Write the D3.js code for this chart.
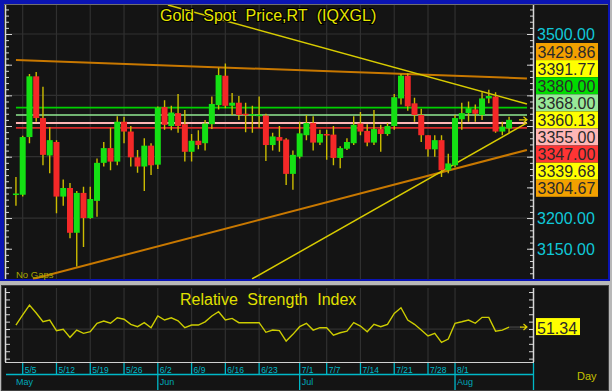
<!DOCTYPE html>
<html><head><meta charset="utf-8">
<script src="https://cdn.jsdelivr.net/npm/d3@7"></script>
<style>
body{margin:0;background:#b8b8b8;}
svg{display:block;font-family:"Liberation Sans",Arial,sans-serif;}
</style>
</head><body>
<svg id="c" width="612" height="391"></svg>
<script>
// ---------- data ----------
const dates = ["5/2","5/5","5/6","5/7","5/8","5/9","5/12","5/13","5/14","5/15","5/16","5/19","5/20","5/21","5/22","5/23","5/26","5/27","5/28","5/29","5/30",
"6/2","6/3","6/4","6/5","6/6","6/9","6/10","6/11","6/12","6/13","6/16","6/17","6/18","6/19","6/20","6/23","6/24","6/25","6/26","6/27","6/30",
"7/1","7/2","7/3","7/4","7/7","7/8","7/9","7/10","7/11","7/14","7/15","7/16","7/17","7/18","7/21","7/22","7/23","7/24","7/25","7/28","7/29","7/30","7/31",
"8/1","8/4","8/5","8/6","8/7","8/8","8/11","8/12","8/13"];
const open = [3238,3238,3332,3431,3363,3302,3324,3235,3249,3176,3241,3200,3228,3290,3314,3292,3357,3341,3299,3284,
3318,3287,3381,3350,3371,3353,3308,3326,3322,3353,3384,3432,3383,3388,3370,3369,3368,3367,3319,3332,
3328,3272,3300,3335,3355,3323,3337,3336,3298,3313,3322,3354,3342,3323,3345,3337,3350,3395,3432,3387,
3368,3335,3312,3327,3278,3286,3361,3371,3377,3368,3395,3398,3341,3346];
const close = [3240,3332,3431,3363,3303,3327,3235,3249,3176,3241,3200,3231,3290,3314,3292,3357,3341,3299,3284,3318,
3286,3380,3352,3372,3350,3308,3326,3319,3354,3386,3433,3383,3388,3368,3369,3369.5,3368.5,3319,3333,3326,
3272,3303,3338,3355,3323,3337,3335,3298,3314,3324,3352,3341,3323,3345,3337,3350,3397,3432,3382,3368,
3335,3312,3327,3278,3289,3363,3371,3379,3370,3395,3399,3341,3349,3360.13];
const high = [3267,3334,3435,3438,3414,3348,3327,3263,3257,3244,3251,3251,3297,3324,3347,3366,3365,3350,3311,3330,
3322,3382,3392,3383,3402,3376,3337,3343,3360,3398,3445,3452,3404,3399,3388,3383,3398,3370,3339,3350,
3330,3310,3357,3368,3366,3344,3344,3350,3317,3330,3366,3373,3353,3376,3352,3355,3402,3435,3436,3396,
3378,3335,3335,3335,3305,3368,3388,3390,3385,3405,3409,3405,3357,3365];
const low = [3220,3235,3322,3357,3286,3273,3208,3220,3167,3121,3153,3199,3202,3284,3278,3286,3322,3284,3274,3244,
3270,3280,3344,3343,3339,3292,3292,3312,3310,3345,3377,3379,3368,3360,3340,3339,3347,3293,3310,3308,
3254,3246,3297,3327,3310,3319,3295,3286,3281,3311,3319,3335,3317,3319,3308,3334,3344,3385,3375,3357,
3324,3300,3300,3267,3273,3283,3344,3357,3357,3360,3387,3339,3335,3338];
const rsi = [52.7,59.5,66.2,60.8,54.9,56.1,48.9,49.8,44.4,49.3,47.1,48.2,53.9,55.4,53.9,57.6,56.6,53.2,51.6,54.3,
50.9,58.8,56.1,57.6,55.6,50.9,52.7,52.7,54.9,58.8,61.7,56.1,57.2,54.3,54.3,54.3,54.3,47.8,49.3,48.9,
41.9,46.4,51.6,53.9,49.3,50.9,50.9,45.9,47.5,48.6,54.3,52.0,48.2,53.2,51.6,53.2,60.6,64.4,56.1,53.2,
49.3,45.3,47.1,41.0,43.2,53.9,54.9,56.1,53.9,57.9,57.9,48.6,49.3,51.34];
const tickDates = ["5/5","5/12","5/19","5/26","6/2","6/9","6/16","6/23","7/1","7/7","7/14","7/21","7/28","8/1"];
const monthLabels = ["May","Jun","Jul","Aug"];
const monthStarts = ["5/2","6/2","7/1","8/1"];
const priceLabels = [3500, 3200, 3150];
const levelValues = [3429.86,3391.77,3380.00,3368.00,3360.13,3355.00,3347.00,3339.68,3304.67];
const hLineValues = [3380,3368,3355,3347];
const lastPrice = 3360.13;
const lastRsi = 51.34;
// trend lines: [index, price] endpoints
const trendOrangeTop = [[0,3457.6],[75.65,3427.5]];
const trendYellowTop = [[22.5,3547.3],[75.65,3386]];
const trendYellowLow = [[34.95,3100.7],[75.65,3355]];
const trendOrangeLow = [[2.52,3100.7],[75.65,3311]];
const title = "Gold Spot Price,RT (IQXGL)";
const rsiTitle = "Relative Strength Index";

// ---------- drawing ----------
const svg = d3.select("#c");
const BG = "#141414", GRID = "#303030";
const x = d3.scaleLinear().domain([0, 73]).range([15.95, 509.07]);
const y = d3.scaleLinear().domain([3100, 3500]).range([279.4, 34]);
const yr = d3.scaleLinear().domain([28, 78]).range([361.6, 287.6]);
const idx = d => dates.indexOf(d);

// frames
svg.append("rect").attr("x",0).attr("y",0).attr("width",612).attr("height",391).attr("fill","#b8b8b8");
svg.append("rect").attr("x",0).attr("y",0).attr("width",610).attr("height",281).attr("fill","#0a14b4");
svg.append("rect").attr("x",4).attr("y",4).attr("width",604).attr("height",275).attr("fill",BG);
svg.append("line").attr("x1",4).attr("x2",608).attr("y1",4.5).attr("y2",4.5).attr("stroke","#707070");
svg.append("rect").attr("x",1.5).attr("y",285.5).attr("width",607).attr("height",105).attr("fill",BG).attr("stroke","#404040");

// clip for main
svg.append("clipPath").attr("id","mc").append("rect").attr("x",7).attr("y",5).attr("width",526).attr("height",274.5);
svg.append("clipPath").attr("id","rc").append("rect").attr("x",7).attr("y",288).attr("width",526).attr("height",74);

// grid main
const gm = svg.append("g").attr("clip-path","url(#mc)");
gm.selectAll(".vg").data(tickDates).join("line")
  .attr("x1",d=>x(idx(d))).attr("x2",d=>x(idx(d))).attr("y1",5).attr("y2",280)
  .attr("stroke",GRID).attr("stroke-width",1.2);
gm.selectAll(".hg").data([3200,3300,3400,3500]).join("line")
  .attr("x1",7).attr("x2",533).attr("y1",d=>y(d)).attr("y2",d=>y(d))
  .attr("stroke",GRID).attr("stroke-width",1.2);

// grid rsi
const gr = svg.append("g").attr("clip-path","url(#rc)");
gr.selectAll(".vg").data(tickDates).join("line")
  .attr("x1",d=>x(idx(d))).attr("x2",d=>x(idx(d))).attr("y1",288).attr("y2",362)
  .attr("stroke",GRID).attr("stroke-width",1.2);
gr.append("line").attr("x1",7).attr("x2",533).attr("y1",yr(50)).attr("y2",yr(50)).attr("stroke",GRID).attr("stroke-width",1.2);

// horizontal level lines
const hColors = ["#00d000","#90e890","#ffb4b4","#d82828"];
gm.selectAll(".hl").data(hLineValues).join("line")
  .attr("x1",x(0)).attr("x2",527).attr("y1",d=>y(d)).attr("y2",d=>y(d))
  .attr("stroke",(d,i)=>hColors[i]).attr("stroke-width",(d,i)=>i==2?2:1.6);

// trend lines
const line = d3.line().x(d=>x(d[0])).y(d=>y(d[1]));
[[trendOrangeTop,"#c87800",2],[trendOrangeLow,"#c87800",2],[trendYellowTop,"#d8cc00",1.5],[trendYellowLow,"#d8cc00",1.5]]
 .forEach(([d,c,w])=>gm.append("path").attr("d",line(d)).attr("fill","none").attr("stroke",c).attr("stroke-width",w));

// candles
const data = dates.map((d,i)=>({i,o:open[i],h:high[i],l:low[i],c:close[i]}));
const cg = gm.append("g");
cg.selectAll(".wick").data(data).join("line")
  .attr("x1",d=>x(d.i)).attr("x2",d=>x(d.i)).attr("y1",d=>y(d.h)).attr("y2",d=>y(d.l))
  .attr("stroke","#ccbc00").attr("stroke-width",1.4);
cg.selectAll(".body").data(data).join("rect")
  .attr("x",d=>x(d.i)-3).attr("width",6)
  .attr("y",d=>y(Math.max(d.o,d.c)))
  .attr("height",d=>Math.max(1.5, Math.abs(y(d.o)-y(d.c))))
  .attr("fill",d=>d.c>=d.o?"#14e014":"#f42828");

// last price arrow main
const ap = y(lastPrice);
gm.append("path").attr("d",`M519,${ap} L527,${ap} M523.5,${ap-3} L527,${ap} L523.5,${ap+3}`)
  .attr("stroke","#e0d000").attr("stroke-width",1.2).attr("fill","none");

// axes main
svg.append("line").attr("x1",5.5).attr("x2",5.5).attr("y1",5).attr("y2",279).attr("stroke","#d8d8d8").attr("stroke-width",1.5);
svg.append("line").attr("x1",533.5).attr("x2",533.5).attr("y1",5).attr("y2",279).attr("stroke","#d8d8d8").attr("stroke-width",1.5);
const minorT = d3.range(3100,3550,10), majorT = d3.range(3100,3550,50);
const axL = svg.append("g").attr("transform","translate(6,0)");
axL.call(d3.axisRight(y).tickValues(minorT).tickSize(3).tickFormat(""));
axL.call(g=>g.select(".domain").remove());
const axL2 = svg.append("g").attr("transform","translate(6,0)");
axL2.call(d3.axisRight(y).tickValues(majorT).tickSize(6).tickFormat(""));
axL2.call(g=>g.select(".domain").remove());
const axR = svg.append("g").attr("transform","translate(533,0)");
axR.call(d3.axisLeft(y).tickValues(minorT).tickSize(3).tickFormat(""));
axR.call(g=>g.select(".domain").remove());
const axR2 = svg.append("g").attr("transform","translate(533,0)");
axR2.call(d3.axisLeft(y).tickValues(majorT).tickSize(6).tickFormat(""));
axR2.call(g=>g.select(".domain").remove());
svg.selectAll(".tick line").attr("stroke","#d8d8d8");
svg.selectAll(".tick").filter(d=>y(d)<5||y(d)>279).remove();

// right labels (price axis) - the rest are hidden behind the level boxes
svg.selectAll(".pl").data(priceLabels).join("text")
  .attr("x",537).attr("y",d=>y(d)+6).text(d=>d.toFixed(2))
  .attr("font-size",16).attr("fill","#10c8d8");

// level boxes
const boxColors = ["#f2a000","#ffff00","#00dc00","#98e898","#ffff00","#ffb6b6","#ff3434","#ffff00","#f2a000"];
const bx = svg.selectAll(".bx").data(levelValues).join("g")
  .attr("transform",(d,i)=>`translate(536,${43+i*17.1})`);
bx.append("rect").attr("width",62).attr("height",17).attr("fill",(d,i)=>boxColors[i]);
bx.append("text").attr("x",1.5).attr("y",14.5).text(d=>d.toFixed(2)).attr("font-size",16).attr("fill","#2a2a2a");

// title
svg.append("text").attr("x",160).attr("y",21).text(title)
  .attr("font-size",16).attr("word-spacing",5).attr("fill","#e6e600")
  .attr("stroke","#000").attr("stroke-width",2.2).attr("paint-order","stroke");
svg.append("text").attr("x",16).attr("y",278).text("No Gaps").attr("font-size",9.5).attr("fill","#a8a400");

// RSI panel
svg.append("line").attr("x1",5.5).attr("x2",5.5).attr("y1",288).attr("y2",362).attr("stroke","#d8d8d8").attr("stroke-width",1.5);
svg.append("line").attr("x1",533.5).attr("x2",533.5).attr("y1",288).attr("y2",362).attr("stroke","#d8d8d8").attr("stroke-width",1.5);
svg.append("line").attr("x1",5).attr("x2",534).attr("y1",362.5).attr("y2",362.5).attr("stroke","#d0d0d0").attr("stroke-width",1.2);
const rT = d3.range(30,80,5);
const rl = svg.append("g").attr("transform","translate(6,0)").call(d3.axisRight(yr).tickValues(rT).tickSize(4).tickFormat(""));
rl.select(".domain").remove();
const rr = svg.append("g").attr("transform","translate(533,0)").call(d3.axisLeft(yr).tickValues(rT).tickSize(4).tickFormat(""));
rr.select(".domain").remove();
svg.selectAll(".tick line").attr("stroke","#d8d8d8");

svg.append("text").attr("x",180).attr("y",305).text(rsiTitle)
  .attr("font-size",16).attr("word-spacing",5).attr("fill","#e0e000");

const rline = d3.line().x((d,i)=>x(i)).y(d=>yr(d));
gr.append("path").attr("d",rline(rsi)).attr("fill","none").attr("stroke","#cccc00").attr("stroke-width",1.4);
const ar = yr(lastRsi);
svg.append("line").attr("x1",x(73)).attr("x2",521).attr("y1",ar).attr("y2",ar).attr("stroke","#505050");
svg.append("path").attr("d",`M520,${ar} L527,${ar} M523.5,${ar-3} L527,${ar} L523.5,${ar+3}`)
  .attr("stroke","#e0d000").attr("stroke-width",1.2).attr("fill","none");
svg.append("rect").attr("x",536).attr("y",ar-9).attr("width",44).attr("height",17).attr("fill","#ffff00");
svg.append("text").attr("x",537).attr("y",ar+6.5).text(lastRsi.toFixed(2)).attr("font-size",16).attr("fill","#2a2a2a");

// date axis
const CY = "#00b8c8";
svg.append("line").attr("x1",6).attr("x2",533).attr("y1",374.5).attr("y2",374.5).attr("stroke",CY).attr("stroke-width",1.3);
svg.append("line").attr("x1",533.5).attr("x2",533.5).attr("y1",363).attr("y2",390).attr("stroke",CY).attr("stroke-width",1.3);
svg.selectAll(".dt").data(tickDates).join("line")
  .attr("x1",d=>x(idx(d))).attr("x2",d=>x(idx(d))).attr("y1",363)
  .attr("y2",d=>monthStarts.includes(d)?390:374).attr("stroke",CY).attr("stroke-width",1.3);
svg.selectAll(".dl").data(tickDates).join("text")
  .attr("x",d=>x(idx(d))+2).attr("y",373).text(d=>d)
  .attr("font-size",8.5).attr("fill",CY);
svg.selectAll(".ml").data(monthLabels).join("text")
  .attr("x",(d,i)=>x(idx(monthStarts[i]))+(i==0?0:2)).attr("y",385).text(d=>d)
  .attr("font-size",9).attr("fill","#00a8b8");
svg.append("text").attr("x",577).attr("y",380).text("Day").attr("font-size",11).attr("fill","#c4c000");
</script>
</body></html>
